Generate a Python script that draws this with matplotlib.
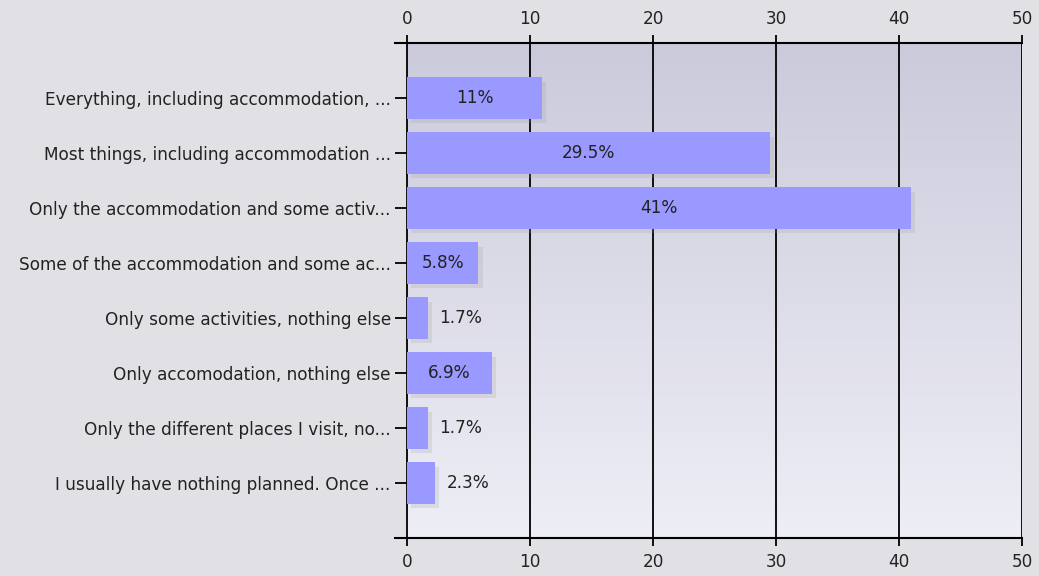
import matplotlib
matplotlib.use('Agg')
import matplotlib.pyplot as plt
import matplotlib.patheffects as pe
import numpy as np

# Survey answers and their share of responses (%)
categories = [
    "Everything, including accommodation, ...",
    "Most things, including accommodation ...",
    "Only the accommodation and some activ...",
    "Some of the accommodation and some ac...",
    "Only some activities, nothing else",
    "Only accomodation, nothing else",
    "Only the different places I visit, no...",
    "I usually have nothing planned. Once ...",
]
percent = [11, 29.5, 41, 5.8, 1.7, 6.9, 1.7, 2.3]
value_labels = ["11%", "29.5%", "41%", "5.8%", "1.7%", "6.9%", "1.7%", "2.3%"]
x_ticks = [0, 10, 20, 30, 40, 50]

W, H, DPI = 1039, 576, 100
BG = '#e1e0e5'
BAR = '#9999ff'
TXT = '#222222'
FS = 12.2

plt.rcParams['font.family'] = ['DejaVu Sans']

fig = plt.figure(figsize=(W / DPI, H / DPI), dpi=DPI, facecolor=BG)
# plot area: x=0 sits at pixel 407, but axes starts at 395 so the frame lines run a bit left
left_px, right_px, top_px, bot_px = 395, 1022, 43, 538
ax = fig.add_axes([left_px / W, 1 - bot_px / H, (right_px - left_px) / W, (bot_px - top_px) / H])
ax.set_facecolor(BG)

x0 = -12 / (right_px - 407) * 50
ax.set_xlim(x0, 50)
ax.set_ylim(8, -1)

# vertical gradient panel from 0 to 50
grad = np.linspace(0, 1, 256).reshape(-1, 1)
top_c = np.array([0xcb, 0xca, 0xdb]) / 255
bot_c = np.array([0xee, 0xee, 0xf6]) / 255
img = top_c + (bot_c - top_c) * grad[..., None]
img = img.reshape(256, 1, 3)
ax.imshow(img, extent=[0, 50, 8, -1], aspect='auto', zorder=0, interpolation='bilinear')

ax.set_xticks(x_ticks)
ax.grid(axis='x', color='black', linewidth=1.3, zorder=1)
ax.set_axisbelow(True)

ypos = np.arange(len(categories))
bars = ax.barh(ypos, percent, height=0.75, color=BAR, zorder=3,
               path_effects=[pe.SimplePatchShadow(offset=(3, -3), shadow_rgbFace='#999999', alpha=0.2),
                             pe.Normal()])

for y, v, lab in zip(ypos, percent, value_labels):
    if v >= 5:
        ax.text(v / 2, y, lab, ha='center', va='center', fontsize=FS, color=TXT, zorder=4)
    else:
        ax.text(v + 0.9, y, lab, ha='left', va='center', fontsize=FS, color=TXT, zorder=4)

ax.set_yticks(ypos)
ax.set_yticklabels(categories, fontsize=FS, color=TXT)
ax.tick_params(axis='y', direction='in', length=8.6, width=1.3, color='black', pad=3)

ax.tick_params(axis='x', which='both', top=True, labeltop=True, bottom=True, labelbottom=True,
               direction='out', length=6, width=1.3, labelsize=FS, labelcolor=TXT, pad=5)

for s in ['left', 'right']:
    ax.spines[s].set_visible(False)
for s in ['top', 'bottom']:
    ax.spines[s].set_color('black')
    ax.spines[s].set_linewidth(1.5)

fig.savefig('out.png', dpi=DPI, facecolor=BG)
